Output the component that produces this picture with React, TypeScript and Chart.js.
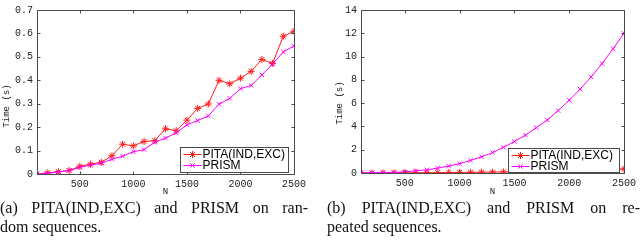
import React, { useEffect, useRef } from "react";
import { Chart, registerables } from "chart.js";
import { drawPoint } from "chart.js/helpers";
Chart.register(...registerables);

const N = [100, 200, 300, 400, 500, 600, 700, 800, 900, 1000, 1100, 1200, 1300, 1400, 1500, 1600, 1700, 1800, 1900, 2000, 2100, 2200, 2300, 2400, 2500];

const pitaRandom = [0, 0.005, 0.01, 0.015, 0.033, 0.042, 0.05, 0.078, 0.127, 0.12, 0.139, 0.142, 0.193, 0.185, 0.23, 0.28, 0.299, 0.4, 0.385, 0.409, 0.438, 0.489, 0.472, 0.588, 0.609];
const prismRandom = [0, 0.003, 0.008, 0.015, 0.028, 0.038, 0.046, 0.063, 0.076, 0.095, 0.104, 0.136, 0.153, 0.176, 0.21, 0.228, 0.248, 0.298, 0.323, 0.364, 0.378, 0.423, 0.469, 0.521, 0.547];

const pitaRepeated = [0, 0.003, 0.006, 0.01, 0.015, 0.02, 0.025, 0.03, 0.04, 0.05, 0.06, 0.07, 0.08, 0.09, 0.1, 0.11, 0.13, 0.15, 0.17, 0.19, 0.21, 0.24, 0.27, 0.3, 0.35];
const prismRepeated = [0.02, 0.03, 0.04, 0.06, 0.1, 0.19, 0.28, 0.42, 0.6, 0.8, 1.08, 1.39, 1.75, 2.2, 2.7, 3.25, 3.9, 4.55, 5.36, 6.25, 7.2, 8.25, 9.4, 10.67, 12.0];

const xTicks = [500, 1000, 1500, 2000, 2500];
const yTicksRandom = [0, 0.1, 0.2, 0.3, 0.4, 0.5, 0.6, 0.7];
const yTicksRepeated = [0, 2, 4, 6, 8, 10, 12, 14];
const seriesNames = ["PITA(IND,EXC)", "PRISM"];
const xTitle = "N";
const yTitle = "Time (s)";

const RED = "#ff1a1a";
const MAGENTA = "#ff00ff";
const AXIS = "#4a4a4a";
const MONO = "'Liberation Mono', 'DejaVu Sans Mono', monospace";

type Layout = {
  padTop: number;
  padRight: number;
  yWidth: number;
  xHeight: number;
  yTitleX: number;
  yTitleY: number;
  legW: number;
  legH: number;
  legRight: number;
  legBottom: number;
};

function makeDecor(layout: Layout, yTicks: number[]) {
  return {
    id: "decor",
    afterDatasetsDraw(chart: any) {
      const ctx = chart.ctx;
      const a = chart.chartArea;
      const xs = chart.scales.x;
      const ys = chart.scales.y;
      ctx.save();
      ctx.strokeStyle = AXIS;
      ctx.lineWidth = 1;
      const L = Math.round(a.left) + 0.5;
      const R = Math.round(a.right) + 0.5;
      const T = Math.round(a.top) + 0.5;
      const B = Math.round(a.bottom) + 0.5;
      ctx.beginPath();
      ctx.rect(L, T, R - L, B - T);
      const tl = 3;
      xTicks.forEach((v) => {
        const px = Math.round(xs.getPixelForValue(v)) + 0.5;
        ctx.moveTo(px, B);
        ctx.lineTo(px, B - tl);
        ctx.moveTo(px, T);
        ctx.lineTo(px, T + tl);
      });
      yTicks.forEach((v) => {
        const py = Math.round(ys.getPixelForValue(v)) + 0.5;
        ctx.moveTo(L, py);
        ctx.lineTo(L + tl, py);
        ctx.moveTo(R, py);
        ctx.lineTo(R - tl, py);
      });
      ctx.stroke();

      // axis titles
      ctx.fillStyle = "#222";
      ctx.font = `9px ${MONO}`;
      ctx.textAlign = "center";
      ctx.textBaseline = "middle";
      ctx.fillText(xTitle, (a.left + a.right) / 2, 192);
      ctx.save();
      ctx.translate(layout.yTitleX, layout.yTitleY);
      ctx.rotate(-Math.PI / 2);
      ctx.fillText(yTitle, 0, 0);
      ctx.restore();

      // legend
      const bx = Math.round(a.right - layout.legRight - layout.legW) + 0.5;
      const by = Math.round(a.bottom - layout.legBottom - layout.legH) + 0.5;
      ctx.fillStyle = "#fff";
      ctx.fillRect(bx, by, layout.legW, layout.legH);
      ctx.strokeStyle = AXIS;
      ctx.strokeRect(bx, by, layout.legW, layout.legH);
      const ds = chart.data.datasets;
      const rowY = [by + 6, by + 17];
      ds.forEach((d: any, i: number) => {
        const y = Math.round(rowY[i]) + 0.5;
        ctx.strokeStyle = d.borderColor;
        ctx.lineWidth = 1;
        ctx.beginPath();
        ctx.moveTo(bx + 3, y);
        ctx.lineTo(bx + 21, y);
        ctx.stroke();
        ctx.fillStyle = d.borderColor;
        drawPoint(ctx, { pointStyle: d.pointStyle, radius: d.pointRadius, rotation: 0, borderWidth: 1 } as any, bx + 12, y);
        ctx.fillStyle = "#000";
        ctx.font = "12px 'Liberation Sans', Arial, sans-serif";
        ctx.textAlign = "left";
        ctx.textBaseline = "middle";
        ctx.fillText(d.label, bx + 22, y + 0.5);
      });
      ctx.restore();
    },
  };
}

function makeConfig(pita: number[], prism: number[], yMax: number, yTicks: number[], layout: Layout): any {
  return {
    type: "line",
    data: {
      datasets: [
        {
          label: seriesNames[0],
          data: N.map((x, i) => ({ x, y: pita[i] })),
          borderColor: RED,
          backgroundColor: RED,
          borderWidth: 1,
          pointStyle: "star",
          pointRadius: 3.5,
          pointBorderWidth: 1,
          order: 2,
        },
        {
          label: seriesNames[1],
          data: N.map((x, i) => ({ x, y: prism[i] })),
          borderColor: MAGENTA,
          backgroundColor: MAGENTA,
          borderWidth: 1,
          pointStyle: "crossRot",
          pointRadius: 3,
          pointBorderWidth: 1,
          order: 1,
        },
      ],
    },
    options: {
      animation: false,
      responsive: false,
      devicePixelRatio: 1,
      layout: { padding: { left: 0, top: layout.padTop, right: layout.padRight, bottom: 0 } },
      plugins: { legend: { display: false }, tooltip: { enabled: false } },
      scales: {
        x: {
          type: "linear",
          min: 100,
          max: 2500,
          grid: { display: false, drawTicks: false },
          border: { display: false },
          afterBuildTicks: (s: any) => {
            s.ticks = xTicks.map((v) => ({ value: v }));
          },
          afterFit: (s: any) => {
            s.height = layout.xHeight;
          },
          ticks: {
            autoSkip: false,
            maxRotation: 0,
            padding: 4,
            color: "#222",
            font: { family: MONO, size: 10 },
            callback: (v: any) => String(v),
          },
        },
        y: {
          type: "linear",
          min: 0,
          max: yMax,
          grid: { display: false, drawTicks: false },
          border: { display: false },
          afterBuildTicks: (s: any) => {
            s.ticks = yTicks.map((v) => ({ value: v }));
          },
          afterFit: (s: any) => {
            s.width = layout.yWidth;
          },
          ticks: {
            autoSkip: false,
            padding: 4,
            color: "#222",
            font: { family: MONO, size: 10 },
            callback: (v: any) => String(v),
          },
        },
      },
    },
    plugins: [makeDecor(layout, yTicks)],
  };
}

const leftLayout: Layout = { padTop: 7.5, padRight: 26, yWidth: 37, xHeight: 26, yTitleX: 7, yTitleY: 106, legW: 108, legH: 25, legRight: 6, legBottom: 2 };
const rightLayout: Layout = { padTop: 4.5, padRight: 15, yWidth: 41, xHeight: 27, yTitleX: 20, yTitleY: 103, legW: 111, legH: 24, legRight: 5, legBottom: 1 };

function ChartBox(props: { pita: number[]; prism: number[]; yMax: number; yTicks: number[]; layout: Layout; left: number }) {
  const ref = useRef<HTMLCanvasElement>(null);
  useEffect(() => {
    const c = new Chart(ref.current as HTMLCanvasElement, makeConfig(props.pita, props.prism, props.yMax, props.yTicks, props.layout));
    return () => c.destroy();
  }, []);
  return (
    <canvas
      ref={ref}
      width={320}
      height={200}
      style={{ position: "absolute", left: props.left, top: 0, width: 320, height: 200, display: "block" }}
    />
  );
}

const captionStyle: React.CSSProperties = {
  position: "absolute",
  top: 198,
  fontFamily: "'Liberation Serif', 'DejaVu Serif', serif",
  fontSize: 16,
  lineHeight: "19px",
  color: "#111",
};

export default function App() {
  return (
    <div style={{ position: "fixed", left: 0, top: 0, width: 640, height: 240, background: "#fff", overflow: "hidden" }}>
      <ChartBox pita={pitaRandom} prism={prismRandom} yMax={0.7} yTicks={yTicksRandom} layout={leftLayout} left={0} />
      <ChartBox pita={pitaRepeated} prism={prismRepeated} yMax={14} yTicks={yTicksRepeated} layout={rightLayout} left={320} />
      <div style={{ ...captionStyle, left: 0, width: 308 }}>
        <div style={{ textAlign: "justify", textAlignLast: "justify", whiteSpace: "nowrap" }}>(a) PITA(IND,EXC) and PRISM on ran-</div>
        <div>dom sequences.</div>
      </div>
      <div style={{ ...captionStyle, left: 327, width: 313 }}>
        <div style={{ textAlign: "justify", textAlignLast: "justify", whiteSpace: "nowrap" }}>(b) PITA(IND,EXC) and PRISM on re-</div>
        <div>peated sequences.</div>
      </div>
    </div>
  );
}
